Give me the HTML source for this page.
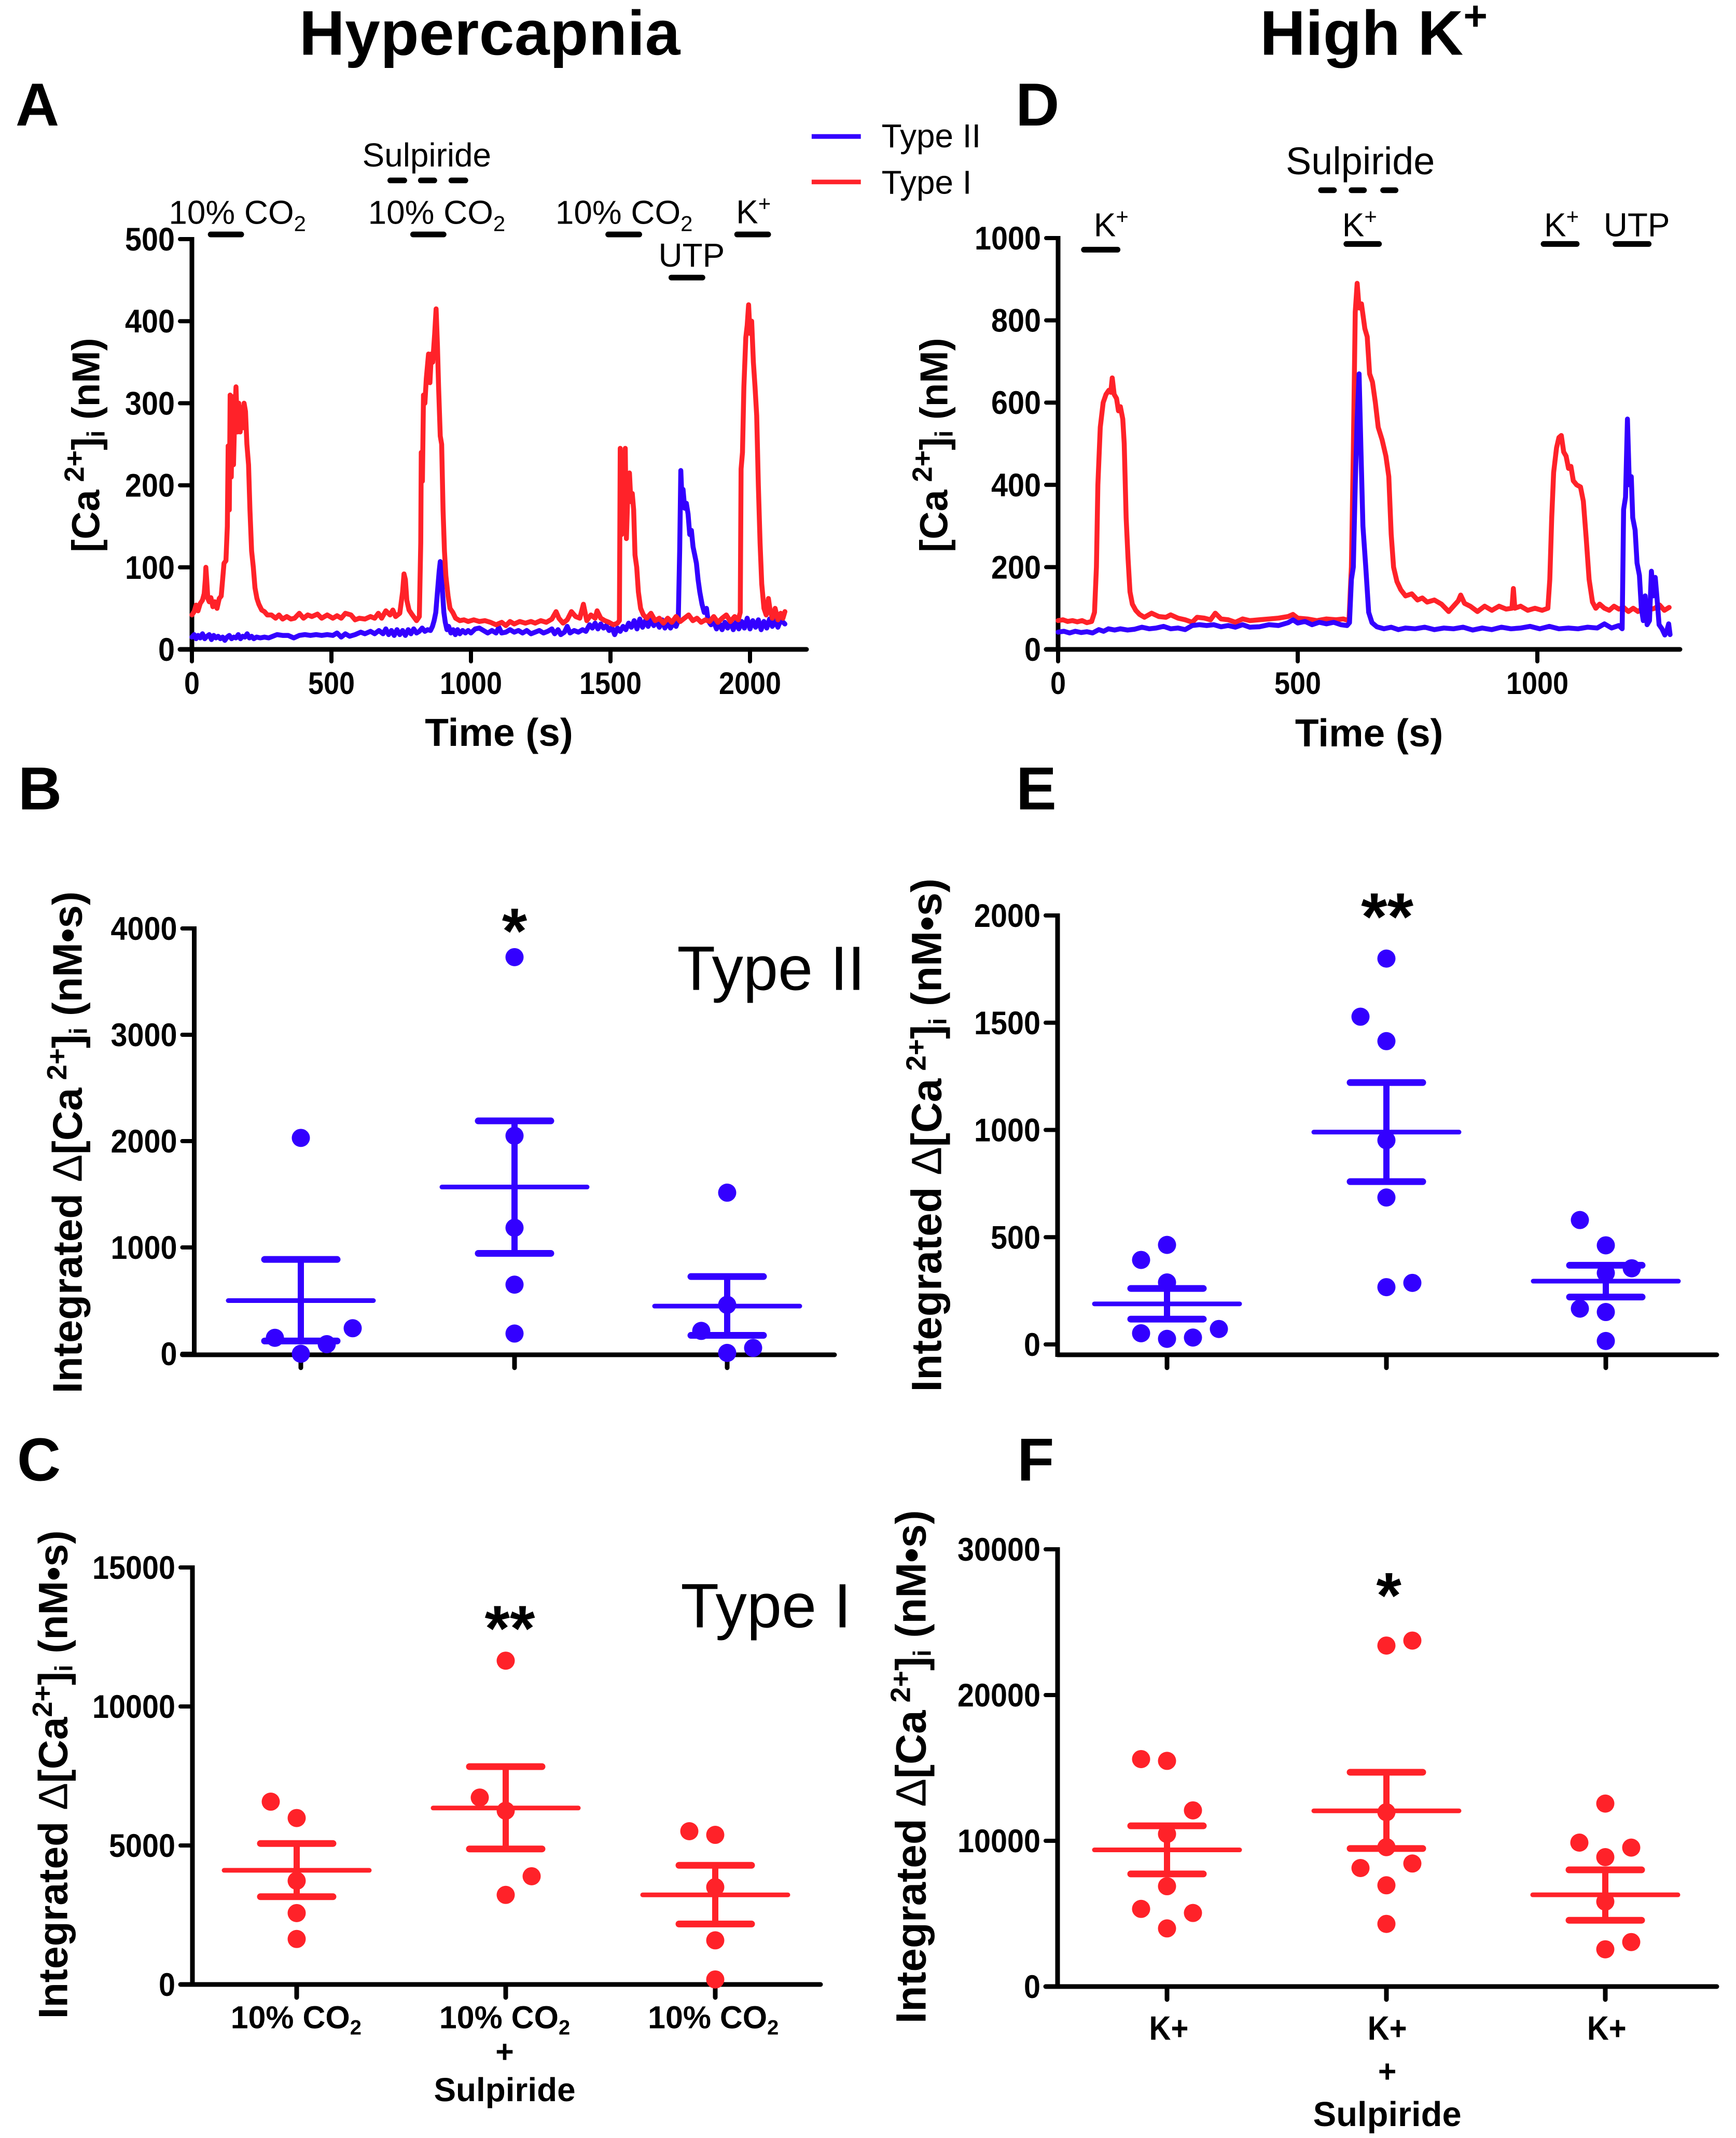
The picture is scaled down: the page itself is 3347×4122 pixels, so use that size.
<!DOCTYPE html>
<html lang="en">
<head>
<meta charset="utf-8">
<title>Hypercapnia and High K+ calcium responses</title>
<style>
html,body{margin:0;padding:0;background:#fff;width:3347px;height:4122px;overflow:hidden}
svg{display:block}
text{font-family:"Liberation Sans",sans-serif;fill:#000}
.b{font-weight:700}
.t{font-size:64px}
.cat{font-size:61px;font-weight:700;text-anchor:middle}
.yt{font-size:75px;font-weight:700;text-anchor:middle}
.yi{font-size:80px;font-weight:700;text-anchor:middle}
.delta{font-weight:400}
.letter{font-size:117px;font-weight:700}
.stim{stroke:#000;stroke-width:11;stroke-linecap:round;fill:none}
</style>
</head>
<body>
<svg id="fig" xmlns="http://www.w3.org/2000/svg" width="3347" height="4122" viewBox="0 0 3347 4122">
<rect width="3347" height="4122" fill="#fff"/>

<g transform="scale(.998,.9966)">
<text class="b" x="578" y="106" font-size="122" textLength="736">Hypercapnia</text>
<text class="b" x="2434" y="106" font-size="122">High K<tspan dy="-48" font-size="80">+</tspan></text>

<text class="letter" x="30" y="243">A</text>
<text class="letter" x="1962" y="243">D</text>
<text class="letter" x="35" y="1566">B</text>
<text class="letter" x="1963" y="1566">E</text>
<text class="letter" x="33" y="2864">C</text>
<text class="letter" x="1965" y="2864">F</text>

<!-- Legend -->
<line x1="1568" x2="1663" y1="264" y2="264" stroke="#3300ff" stroke-width="9"/>
<line x1="1568" x2="1663" y1="352" y2="352" stroke="#ff2229" stroke-width="9"/>
<text class="t" x="1703" y="285">Type II</text>
<text class="t" x="1703" y="375">Type I</text>

<!-- Panel A annotations -->
<text class="t" x="700" y="322">Sulpiride</text>
<path class="stim" d="M754 349H781M813 349H839M872 349H899"/>
<text class="t" x="326" y="433">10% CO<tspan dy="14" font-size="42">2</tspan></text>
<text class="t" x="711" y="433">10% CO<tspan dy="14" font-size="42">2</tspan></text>
<text class="t" x="1073" y="433">10% CO<tspan dy="14" font-size="42">2</tspan></text>
<text class="t" x="1422" y="432">K<tspan dy="-24" font-size="42">+</tspan></text>
<text class="t" x="1272" y="516">UTP</text>
<path class="stim" d="M407 453.500H466M798 453.500H857M1175 453.500H1235M1297 537H1357M1424 453.500H1484"/>

<!-- Panel D annotations -->
<text x="2484" y="337" font-size="74">Sulpiride</text>
<path class="stim" d="M2552 368H2577M2611 368H2635M2672 368H2696"/>
<text class="t" x="2113" y="457">K<tspan dy="-24" font-size="42">+</tspan></text>
<text class="t" x="2593" y="457">K<tspan dy="-24" font-size="42">+</tspan></text>
<text class="t" x="2983" y="457">K<tspan dy="-24" font-size="42">+</tspan></text>
<text class="t" x="3098" y="457">UTP</text>
<path class="stim" d="M2094 483H2159M2601 472H2664M2982 472H3046M3121 472H3185"/>

<!-- Y axis titles -->
<text class="yt" transform="translate(192,861) rotate(-90)">[Ca<tspan dy="-30" font-size="54"> 2+</tspan><tspan dy="30">]</tspan><tspan dy="10" font-size="48">i</tspan><tspan dy="-10"> (nM)</tspan></text>
<text class="yt" transform="translate(1830,861) rotate(-90)">[Ca<tspan dy="-30" font-size="54"> 2+</tspan><tspan dy="30">]</tspan><tspan dy="10" font-size="48">i</tspan><tspan dy="-10"> (nM)</tspan></text>
<text class="yi" transform="translate(158,2210) rotate(-90)">Integrated <tspan class="delta">&#916;</tspan>[Ca<tspan dy="-30" font-size="54"> 2+</tspan><tspan dy="30">]</tspan><tspan dy="10" font-size="48">i</tspan><tspan dy="-10"> (nM&#8226;s)</tspan></text>
<text class="yi" transform="translate(1818,2196) rotate(-90)" style="font-size:82px">Integrated <tspan class="delta">&#916;</tspan>[Ca<tspan dy="-30" font-size="54"> 2+</tspan><tspan dy="30">]</tspan><tspan dy="10" font-size="48">i</tspan><tspan dy="-10"> (nM&#8226;s)</tspan></text>
<text class="yi" transform="translate(130,3433) rotate(-90)" style="font-size:79px">Integrated <tspan class="delta">&#916;</tspan>[Ca<tspan dy="-30" font-size="54">2+</tspan><tspan dy="30">]</tspan><tspan dy="10" font-size="48">i</tspan><tspan dy="-10"> (nM&#8226;s)</tspan></text>
<text class="yi" transform="translate(1788,3418) rotate(-90)" style="font-size:82px">Integrated <tspan class="delta">&#916;</tspan>[Ca<tspan dy="-30" font-size="54"> 2+</tspan><tspan dy="30">]</tspan><tspan dy="10" font-size="48">i</tspan><tspan dy="-10"> (nM&#8226;s)</tspan></text>

<!-- X axis titles -->
<text class="b" x="964" y="1443" font-size="75" text-anchor="middle">Time (s)</text>
<text class="b" x="2645" y="1444" font-size="75" text-anchor="middle">Time (s)</text>

<!-- Big type labels -->
<text x="1308" y="1915" font-size="121">Type II</text>
<text x="1315" y="3148" font-size="121">Type I</text>

<!-- Significance -->
<text class="b" x="994" y="1844" font-size="125" text-anchor="middle">*</text>
<text class="b" x="2680" y="1818" font-size="130" text-anchor="middle">**</text>
<text class="b" x="985" y="3193" font-size="125" text-anchor="middle">**</text>
<text class="b" x="2683" y="3129" font-size="125" text-anchor="middle">*</text>

<!-- Category labels C -->
<text class="cat" x="572" y="3924">10% CO<tspan dy="12" font-size="40">2</tspan></text>
<text class="cat" x="975" y="3924">10% CO<tspan dy="12" font-size="40">2</tspan></text>
<text class="cat" x="975" y="3990">+</text>
<text class="cat" x="975" y="4065" style="font-size:64px">Sulpiride</text>
<text class="cat" x="1378" y="3924">10% CO<tspan dy="12" font-size="40">2</tspan></text>

<!-- Category labels F -->
<text class="cat" x="2258" y="3946" style="font-size:65px" textLength="76" lengthAdjust="spacingAndGlyphs">K+</text>
<text class="cat" x="2680" y="3946" style="font-size:65px" textLength="76" lengthAdjust="spacingAndGlyphs">K+</text>
<text class="cat" x="2680" y="4028">+</text>
<text class="cat" x="2680" y="4113" style="font-size:67px">Sulpiride</text>
<text class="cat" x="3104" y="3946" style="font-size:65px" textLength="76" lengthAdjust="spacingAndGlyphs">K+</text>
</g>

<g id="marks"></g>
</svg>

<script>
// ---------- Tick labels ----------
const ticksAy = [0, 100, 200, 300, 400, 500];
const ticksAx = [0, 500, 1000, 1500, 2000];
const ticksDy = [0, 200, 400, 600, 800, 1000];
const ticksDx = [0, 500, 1000];
const ticksBy = [0, 1000, 2000, 3000, 4000];
const ticksEy = [0, 500, 1000, 1500, 2000];
const ticksCy = [0, 5000, 10000, 15000];
const ticksFy = [0, 10000, 20000, 30000];

// ---------- Panel A traces: [time, nM] ----------
const traceARed = [[0,42],[8,46],[15,54],[22,47],[30,56],[38,60],[44,68],[48,85],[50,100],[53,85],[57,62],[62,58],[68,63],[75,52],[82,58],[90,50],[98,62],[105,65],[110,85],[115,105],[122,108],[127,150],[130,248],[134,170],[137,310],[141,210],[145,308],[149,225],[153,280],[158,320],[163,265],[168,300],[173,265],[178,295],[182,270],[187,300],[192,290],[197,250],[203,225],[208,170],[214,120],[220,100],[226,75],[233,62],[240,55],[250,48],[260,46],[270,42],[285,42],[300,38],[312,42],[325,37],[340,40],[355,37],[368,38],[385,44],[400,38],[415,42],[430,40],[450,43],[465,38],[485,42],[505,38],[520,41],[535,38],[550,44],[570,42],[585,36],[600,38],[620,37],[640,40],[655,38],[668,44],[680,38],[695,47],[710,42],[720,48],[730,40],[745,44],[755,70],[760,92],[765,85],[770,60],[778,48],[790,42],[805,35],[815,40],[820,130],[822,240],[826,205],[830,310],[835,300],[840,330],[848,360],[853,325],[858,360],[863,350],[870,385],[875,415],[880,370],[884,320],[890,260],[895,250],[900,170],[905,120],[910,90],[918,65],[925,50],[935,45],[945,38],[960,35],[975,36],[990,34],[1010,36],[1030,34],[1050,35],[1070,33],[1090,30],[1110,33],[1125,29],[1140,34],[1155,31],[1175,34],[1195,32],[1215,34],[1230,32],[1250,35],[1270,33],[1290,37],[1305,46],[1315,38],[1330,32],[1345,36],[1360,46],[1375,40],[1390,38],[1403,55],[1415,35],[1430,42],[1445,38],[1452,47],[1465,38],[1480,35],[1495,33],[1510,30],[1525,32],[1532,35],[1535,245],[1540,140],[1545,240],[1549,150],[1553,245],[1557,135],[1562,190],[1568,215],[1573,180],[1578,190],[1583,170],[1588,115],[1594,100],[1600,70],[1608,50],[1618,42],[1630,38],[1645,44],[1660,35],[1675,38],[1690,32],[1705,38],[1720,33],[1735,40],[1750,34],[1765,38],[1780,42],[1795,35],[1810,38],[1825,33],[1840,36],[1855,34],[1870,40],[1885,33],[1900,38],[1915,42],[1930,34],[1945,40],[1958,36],[1965,45],[1968,220],[1973,240],[1978,320],[1985,380],[1990,395],[1995,420],[2000,385],[2006,400],[2012,350],[2018,320],[2024,285],[2030,200],[2036,130],[2042,80],[2050,50],[2058,42],[2066,62],[2072,48],[2080,38],[2090,50],[2100,36],[2110,44],[2118,38],[2125,46]];
const traceABlue = [[0,15],[8,18],[15,13],[22,17],[30,14],[38,19],[46,13],[54,16],[62,18],[70,12],[78,17],[86,14],[94,16],[102,13],[110,15],[118,11],[126,15],[134,17],[142,13],[150,15],[158,14],[166,18],[174,13],[182,16],[190,15],[198,19],[206,14],[214,16],[222,13],[232,15],[245,14],[260,15],[275,14],[290,16],[305,18],[325,17],[345,17],[365,14],[385,17],[405,18],[425,17],[445,18],[465,17],[485,18],[505,17],[520,20],[535,15],[550,19],[565,16],[585,18],[605,21],[620,19],[640,22],[655,19],[670,23],[685,19],[695,25],[705,18],[715,23],[725,17],[735,24],[745,18],[755,23],[765,17],[775,24],[785,19],[795,25],[805,20],[815,22],[825,26],[835,22],[845,24],[855,23],[862,28],[868,35],[874,45],[880,70],[886,95],[890,107],[894,95],[898,70],[903,45],[908,33],[914,24],[920,28],[928,20],[936,24],[944,18],[952,24],[960,19],[970,23],[980,20],[990,23],[1000,20],[1015,25],[1030,26],[1045,23],[1060,20],[1075,23],[1090,20],[1100,27],[1110,20],[1125,21],[1140,24],[1155,21],[1170,23],[1185,20],[1200,23],[1215,19],[1230,21],[1245,23],[1260,20],[1275,22],[1290,25],[1300,19],[1312,24],[1322,18],[1335,21],[1345,28],[1355,20],[1370,23],[1385,21],[1400,24],[1412,22],[1425,30],[1435,26],[1445,32],[1455,25],[1465,31],[1475,26],[1485,29],[1495,23],[1505,27],[1515,18],[1525,26],[1535,22],[1545,28],[1555,24],[1565,32],[1575,27],[1585,35],[1595,25],[1605,37],[1615,27],[1625,35],[1635,28],[1645,36],[1655,29],[1665,34],[1675,27],[1685,36],[1695,26],[1705,33],[1715,26],[1725,32],[1735,28],[1743,35],[1748,120],[1752,218],[1757,175],[1760,195],[1766,172],[1772,178],[1778,165],[1784,140],[1790,145],[1796,125],[1802,115],[1808,105],[1814,85],[1820,70],[1828,55],[1836,45],[1844,50],[1850,35],[1860,30],[1870,34],[1880,25],[1890,32],[1900,24],[1910,33],[1920,26],[1930,35],[1940,24],[1950,33],[1960,25],[1970,34],[1980,26],[1990,38],[2000,25],[2010,35],[2020,27],[2030,36],[2040,24],[2050,34],[2060,26],[2070,37],[2080,28],[2090,35],[2100,27],[2110,36],[2125,31]];

// ---------- Panel D traces: [time, nM] ----------
const traceDRed = [[0,70],[10,72],[20,68],[30,70],[40,67],[50,70],[60,65],[70,68],[76,90],[80,200],[83,400],[88,540],[94,600],[100,620],[106,630],[110,625],[113,660],[117,620],[122,610],[126,580],[130,590],[135,560],[138,500],[142,320],[146,220],[150,140],[155,110],[162,95],[170,85],[180,78],[195,88],[210,80],[225,78],[235,84],[250,76],[265,72],[280,66],[290,78],[305,76],[318,72],[328,88],[340,74],[355,72],[370,66],[385,74],[400,70],[420,72],[440,74],[460,76],[480,80],[490,85],[500,76],[520,74],[540,70],[560,74],[580,72],[595,74],[607,70],[612,200],[616,480],[620,820],[624,890],[628,830],[633,840],[640,780],[645,760],[650,670],[656,650],[662,600],[668,540],[676,510],[684,470],[690,420],[695,280],[700,200],[707,165],[715,145],[725,130],[738,135],[750,120],[760,125],[770,115],[785,120],[800,110],[815,92],[825,105],[835,118],[840,132],[848,112],[860,105],[875,92],[890,105],[905,95],[920,105],[935,98],[947,100],[950,148],[953,100],[965,105],[980,95],[995,100],[1010,95],[1022,100],[1026,170],[1030,320],[1034,430],[1040,490],[1045,515],[1050,520],[1055,480],[1060,470],[1065,440],[1070,445],[1075,410],[1082,400],[1090,395],[1096,360],[1102,270],[1108,170],[1115,115],[1122,100],[1130,110],[1140,100],[1150,95],[1160,105],[1170,98],[1180,102],[1190,92],[1200,100],[1210,92],[1220,100],[1230,95],[1245,100],[1255,108],[1265,95],[1275,102]];
const traceDBlue = [[0,42],[12,44],[24,40],[36,44],[48,41],[60,43],[72,40],[85,48],[95,44],[105,50],[118,47],[130,50],[145,47],[160,49],[175,54],[190,50],[205,52],[220,56],[235,50],[250,52],[265,48],[280,58],[295,60],[310,58],[325,60],[340,55],[355,58],[370,54],[385,60],[400,54],[420,55],[440,60],[460,58],[480,65],[490,72],[500,64],[515,68],[530,60],[545,66],[560,62],[575,66],[590,60],[603,58],[608,65],[612,170],[616,200],[620,400],[624,560],[628,670],[632,480],[636,300],[642,200],[648,90],[655,65],[665,55],[680,50],[695,54],[710,48],[725,52],[745,50],[765,54],[785,48],[805,52],[825,50],[845,54],[865,47],[885,52],[905,48],[925,54],[945,50],[965,52],[985,56],[1005,50],[1025,56],[1045,50],[1065,52],[1085,50],[1105,54],[1125,52],[1140,62],[1155,52],[1170,58],[1177,50],[1180,340],[1184,370],[1188,560],[1192,400],[1196,420],[1199,320],[1204,290],[1208,210],[1213,180],[1217,100],[1221,70],[1225,130],[1229,60],[1234,70],[1238,190],[1242,130],[1246,175],[1250,120],[1254,60],[1260,50],[1266,35],[1270,45],[1274,62],[1277,36]];

// ---------- Panel B values ----------
const dotsB = [[2030, 150, 90, 240, 0], [3730, 2050, 1185, 650, 190], [1515, 460, 215, 55, 8]];
const slotsB = [[0, -1, 1, 2, 0], [0, 0, 0, 0, 0], [0, 0, -1, 1, 0]];
const meansB = [500, 1568, 448];
const semHighB = [887, 2190, 726];
const semLowB = [120, 944, 173];

// ---------- Panel E values ----------
const dotsE = [[464, 394, 289, 52, 26, 32, 72], [1799, 1528, 1414, 952, 685, 267, 287], [580, 462, 355, 333, 167, 151, 16]];
const slotsE = [[0, -1, 0, -1, 0, 1, 2], [0, -1, 0, 0, 0, 0, 1], [-1, 0, 1, 0, -1, 0, 0]];
const meansE = [189, 990, 295];
const semHighE = [261, 1221, 369];
const semLowE = [118, 759, 221];

// ---------- Panel C values ----------
const dotsC = [[6576, 5987, 3730, 2568, 1636], [11647, 6723, 6249, 3893, 3222], [5513, 5382, 3501, 1587, 180]];
const slotsC = [[-1, 0, 0, 0, 0], [0, -1, 0, 1, 0], [-1, 0, 0, 0, 0]];
const meansC = [4106, 6347, 3223];
const semHighC = [5071, 7836, 4286];
const semLowC = [3157, 4875, 2176];

// ---------- Panel F values ----------
const dotsF = [[15607, 15483, 12087, 10467, 6885, 5327, 5047, 3988], [23396, 23738, 11963, 9564, 8131, 8442, 6947, 4299], [12554, 9875, 9533, 8879, 5826, 3053, 2555]];
const slotsF = [[-1, 0, 1, 0, 0, -1, 1, 0], [0, 1, 0, 0, -1, 1, 0, 0], [0, -1, 1, 0, 0, 1, 0]];
const meansF = [9377, 12056, 6293];
const semHighF = [11028, 14704, 8006];
const semLowF = [7726, 9470, 4548];

const BLUE = '#3300ff';
const RED = '#ff2229';
const NS = 'http://www.w3.org/2000/svg';
const marks = document.getElementById('marks');

function make(tag, attrs) {
  const el = document.createElementNS(NS, tag);
  for (const k in attrs) el.setAttribute(k, attrs[k]);
  marks.appendChild(el);
  return el;
}

function axes(p) {
  const yLine = make('line', {x1: p.x0, x2: p.x0, y1: p.yTop - 4, y2: p.yBase + 4, stroke: '#000', 'stroke-width': 9});
  
  
  const xLine = make('line', {x1: p.x0 - (p.floating ? 0 : 23), x2: p.xEnd, y1: p.yBase, y2: p.yBase, stroke: '#000', 'stroke-width': 9, 'stroke-linecap': 'round'});
  
  
  p.yTicks.forEach(function (v) {
    const y = p.sy(v);
    const tick = make('line', {x1: p.x0 - 23, x2: p.x0, y1: y, y2: y, stroke: '#000', 'stroke-width': 8, 'stroke-linecap': 'round'});
    
    
    const text = String(v);
    const label = make('text', {x: p.x0 - 33, y: y + 22, 'text-anchor': 'end', 'font-size': 63, 'font-weight': 700, textLength: text.length * 32, lengthAdjust: 'spacingAndGlyphs'});
    
    
    label.textContent = text;
  });
}

function drawTimeAxis(p, ticks) {
  ticks.forEach(function (v) {
    const x = p.sx(v);
    const tick = make('line', {x1: x, x2: x, y1: p.yBase, y2: p.yBase + 23, stroke: '#000', 'stroke-width': 8, 'stroke-linecap': 'round'});
    
    
    const text = String(v);
    const label = make('text', {x: x, y: p.yBase + 86, 'text-anchor': 'middle', 'font-size': 60, 'font-weight': 700, textLength: text.length * 30, lengthAdjust: 'spacingAndGlyphs'});
    
    
    label.textContent = text;
  });
}

function drawTrace(p, series, color, name) {
  const d = series.map(function (pt, i) {
    return (i ? 'L' : 'M') + p.sx(pt[0]).toFixed(1) + ' ' + p.sy(pt[1]).toFixed(1);
  }).join('');
  const path = make('path', {d: d, fill: 'none', stroke: color, 'stroke-width': 9.5, 'stroke-linejoin': 'round', 'stroke-linecap': 'round'});
  
  
}

function drawScatter(p, cats, dots, slots, means, hi, lo, color) {
  cats.forEach(function (cx, c) {
    const tick = make('line', {x1: cx, x2: cx, y1: p.yBase, y2: p.yBase + 25, stroke: '#000', 'stroke-width': 9, 'stroke-linecap': 'round'});
    
    

    const stem = make('line', {x1: cx, x2: cx, y1: p.sy(hi[c]), y2: p.sy(lo[c]), stroke: color, 'stroke-width': 12});
    
    
    const capHi = make('line', {x1: cx - 70, x2: cx + 70, y1: p.sy(hi[c]), y2: p.sy(hi[c]), stroke: color, 'stroke-width': 13, 'stroke-linecap': 'round'});
    
    
    const capLo = make('line', {x1: cx - 70, x2: cx + 70, y1: p.sy(lo[c]), y2: p.sy(lo[c]), stroke: color, 'stroke-width': 13, 'stroke-linecap': 'round'});
    
    
    const mean = make('line', {x1: cx - 140, x2: cx + 140, y1: p.sy(means[c]), y2: p.sy(means[c]), stroke: color, 'stroke-width': 9, 'stroke-linecap': 'round'});
    
    

    dots[c].forEach(function (v, i) {
      const dot = make('circle', {cx: cx + slots[c][i] * 50, cy: p.sy(v), r: 17.5, fill: color});
      
      
    });
  });
}

function linear(a0, p0, a1, p1) {
  return function (v) { return p0 + (v - a0) * (p1 - p0) / (a1 - a0); };
}

const panelA = {id: 'panel-a', x0: 370, xEnd: 1555, yBase: 1252, yTop: 461, yTicks: ticksAy, sy: linear(0, 1252, 500, 461), sx: linear(0, 370, 2000, 1446)};
const panelD = {id: 'panel-d', x0: 2040, xEnd: 3239, yBase: 1252, yTop: 459, yTicks: ticksDy, sy: linear(0, 1252, 1000, 459), sx: linear(0, 2040, 1000, 2964)};
const panelB = {id: 'panel-b', x0: 374.5, xEnd: 1609, yBase: 2612, yTop: 1790, yTicks: ticksBy, sy: linear(0, 2610, 4000, 1790)};
const panelE = {id: 'panel-e', x0: 2039, xEnd: 3310, yBase: 2612, yTop: 1765, yTicks: ticksEy, floating: true, sy: linear(0, 2592, 2000, 1765)};
const panelC = {id: 'panel-c', x0: 371, xEnd: 1582, yBase: 3826, yTop: 3022, yTicks: ticksCy, sy: linear(0, 3826, 15000, 3022)};
const panelF = {id: 'panel-f', x0: 2039, xEnd: 3310, yBase: 3830, yTop: 2987, yTicks: ticksFy, sy: linear(0, 3830, 30000, 2987)};

axes(panelA);
drawTimeAxis(panelA, ticksAx);
drawTrace(panelA, traceABlue, BLUE, 'type-ii-trace-a');
drawTrace(panelA, traceARed, RED, 'type-i-trace-a');

axes(panelD);
drawTimeAxis(panelD, ticksDx);
drawTrace(panelD, traceDRed, RED, 'type-i-trace-d');
drawTrace(panelD, traceDBlue, BLUE, 'type-ii-trace-d');

axes(panelB);
drawScatter(panelB, [580, 992, 1402], dotsB, slotsB, meansB, semHighB, semLowB, BLUE);
axes(panelE);
drawScatter(panelE, [2250, 2673, 3096], dotsE, slotsE, meansE, semHighE, semLowE, BLUE);
axes(panelC);
drawScatter(panelC, [572, 975, 1379], dotsC, slotsC, meansC, semHighC, semLowC, RED);
axes(panelF);
drawScatter(panelF, [2250, 2673, 3095], dotsF, slotsF, meansF, semHighF, semLowF, RED);
</script>
</body>
</html>
